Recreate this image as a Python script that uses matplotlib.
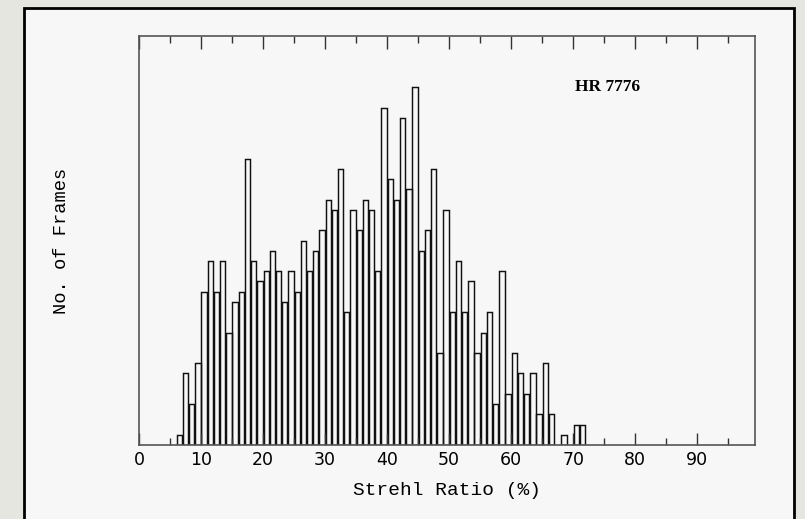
import matplotlib.pyplot as plt
from matplotlib.patches import Rectangle

# Strehl ratio bins (1 % wide, left edges) and number of frames in each
bin_left = list(range(0, 72))
frames = [0, 0, 0, 0, 0, 0, 1, 7, 4, 8,
          15, 18, 15, 18, 11, 14, 15, 28, 18, 16,
          17, 19, 17, 14, 17, 15, 20, 17, 19, 21,
          24, 23, 27, 13, 23, 21, 24, 23, 17, 33,
          26, 24, 32, 25, 35, 19, 21, 27, 9, 23,
          13, 18, 13, 16, 9, 11, 13, 4, 17, 5,
          9, 7, 5, 7, 3, 8, 3, 0, 1, 0,
          2, 2]

x_ticks = [0, 10, 20, 30, 40, 50, 60, 70, 80, 90]
x_label = "Strehl Ratio (%)"
y_label = "No. of Frames"
star_name = "HR 7776"

fig = plt.figure(figsize=(8.05, 5.19), dpi=100, facecolor="#e6e6e1")

# white "slide" panel behind the plot
fig.patches.append(Rectangle((24 / 805, -0.1), (794 - 24) / 805, 1.1 - 8 / 519,
                             transform=fig.transFigure, facecolor="#f7f7f7",
                             edgecolor="black", linewidth=2, zorder=-5))

ax = fig.add_axes([139 / 805, 74 / 519, (755 - 139) / 805, (445 - 36) / 519])
ax.set_zorder(2)
ax.set_facecolor("#f7f7f7")

# each bin drawn as its own open box, leaving a hair of space between neighbours
bins = [b + 0.07 for b, n in zip(bin_left, frames) if n > 0]
counts = [n for n in frames if n > 0]
ax.bar(bins, counts, width=0.86, align="edge", facecolor="none",
       edgecolor="#111111", linewidth=1.05)

ax.set_xlim(0, 99.3)
ax.set_ylim(0, 40)

for s in ax.spines.values():
    s.set_color("#555555")
    s.set_linewidth(1.2)

ax.set_xticks(x_ticks)
ax.set_xticks(range(5, 100, 10), minor=True)
ax.tick_params(axis="x", which="major", direction="in", length=9, width=1,
               color="#333333", top=True, labelsize=12.5, pad=4)
ax.tick_params(axis="x", which="minor", direction="in", length=5, width=1,
               color="#333333", top=True)
ax.set_yticks([])
for lab in ax.get_xticklabels():
    lab.set_family("DejaVu Sans")

ax.set_xlabel(x_label, family="Liberation Mono", fontsize=14, labelpad=10)
ax.set_ylabel(y_label, family="Liberation Mono", fontsize=13.5, labelpad=50)

ax.text(70.3, 35.0, star_name, family="Liberation Serif", fontsize=12.5,
        fontweight="bold", va="center", ha="left")

plt.savefig("out.png", dpi=100, facecolor=fig.get_facecolor())
plt.close()
